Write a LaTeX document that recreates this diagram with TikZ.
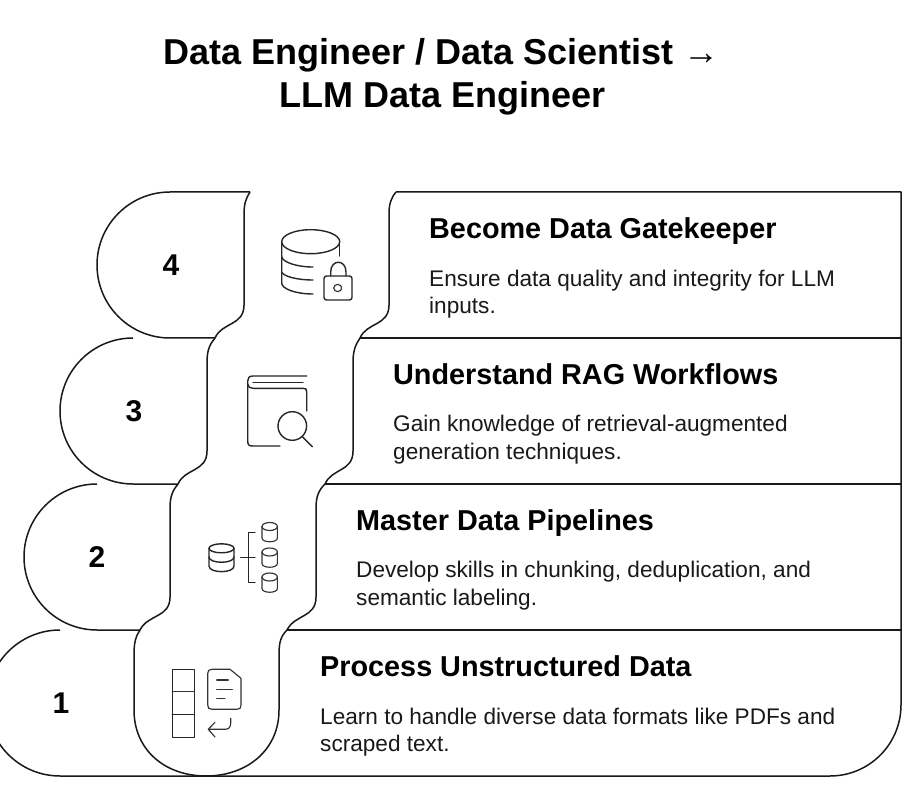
\documentclass[tikz,border=0pt]{standalone}
\usepackage{fontspec}
\setmainfont{Liberation Sans}
\usetikzlibrary{calc}
\tikzset{
  outline/.style={draw=black!90,line width=1.5pt,line join=round},
  icon/.style={draw=black!85,line width=1.4pt,line cap=round,line join=round},
  thinicon/.style={draw=black!80,line width=1.15pt,line cap=round,line join=round},
  titletext/.style={anchor=base,inner sep=0pt,font=\bfseries\fontsize{36}{36}\selectfont},
  headtext/.style={anchor=base west,inner sep=0pt,font=\bfseries\fontsize{28.8}{28.8}\selectfont},
  desctext/.style={anchor=base west,inner sep=0pt,font=\fontsize{22.6}{22.6}\selectfont,text=black!90},
  numtext/.style={anchor=center,inner sep=0pt,font=\bfseries\fontsize{30}{30}\selectfont}
}
\begin{document}
\begin{tikzpicture}[x=1pt,y=-1pt]
\useasboundingbox (0,0) rectangle (916,794);
\fill[white] (0,0) rectangle (916,794);
\clip (0,0) rectangle (916,794);
% lobes and row lines
\draw[outline] (250,192) -- (170,192) arc[start angle=-90,end angle=-270,radius=73] -- (215,338);
\draw[outline] (133,338) arc[start angle=-90,end angle=-270,radius=73] -- (178,484);
\draw[outline] (97,484) arc[start angle=-90,end angle=-270,radius=73] -- (140,630);
\draw[outline] (60,630) arc[start angle=-90,end angle=-270,radius=73] -- (830,776)
  arc[start angle=90,end angle=0,radius=71] -- (901,192) -- (396,192);
\draw[outline] (360,338) -- (901,338);
\draw[outline] (325,484) -- (901,484);
\draw[outline] (287,630) -- (901,630);
% ribbon
\draw[outline] (250,192) .. controls (246,198) and (244,204) .. (244,214) -- (244,305)
  .. controls (244,326) and (222,322) .. (215,338) .. controls (210,344) and (207,350) .. (207,362) -- (207,451)
  .. controls (207,472) and (185,468) .. (178,484) .. controls (173,490) and (170,496) .. (170,508) -- (170,597)
  .. controls (170,618) and (148,614) .. (140,630) .. controls (136,636) and (134,642) .. (134,654) -- (134,710)
  .. controls (134,750) and (165,776) .. (206,776)
  .. controls (247,776) and (279,750) .. (279,710) -- (279,654)
  .. controls (279,642) and (281,636) .. (287,630) .. controls (295,614) and (316,618) .. (316,597) -- (316,508)
  .. controls (316,496) and (319,490) .. (325,484) .. controls (332,468) and (353,472) .. (353,451) -- (353,362)
  .. controls (353,350) and (356,344) .. (360,338) .. controls (367,322) and (389,326) .. (389,305) -- (389,214)
  .. controls (389,204) and (391,198) .. (396,192);
% icon 4: database with lock
\draw[icon] (310.7,241.7) ellipse[x radius=29,y radius=12];
\draw[icon] (339.7,241.7) -- (339.7,256);
\draw[icon] (281.7,241.7) -- (281.7,283) .. controls (281.7,289) and (296,294) .. (313,294);
\draw[icon] (281.7,257) .. controls (283,262) and (296,267) .. (313,267);
\draw[icon] (281.7,272) .. controls (283,276) and (296,280) .. (313,280);
\draw[icon,rounded corners=2.5pt] (324,276) rectangle (352,300);
\draw[icon] (330.7,276) -- (330.7,272) .. controls (330.7,259) and (346,259) .. (346,272) -- (346,276);
\draw[thinicon] (337.7,288) ellipse[x radius=4,y radius=3.6];
% icon 3: book with magnifier
\draw[icon] (306.7,376) -- (253,376) .. controls (249,376) and (247.7,378) .. (247.7,381) -- (247.7,441)
  .. controls (247.7,445) and (249,446) .. (253,446) -- (280,446);
\draw[icon] (253,382.3) -- (303,382.3);
\draw[icon] (247.7,384) .. controls (248,387) and (250,388.3) .. (253,388.3) -- (303,388.3) .. controls (306,388.3) and (306.7,389) .. (306.7,392) -- (306.7,411);
\draw[icon] (292.3,426) circle[radius=14.3];
\draw[icon] (302.3,436.7) -- (312.3,446.7);
% icon 2: pipeline
\draw[icon] (221.5,548.3) ellipse[x radius=12.5,y radius=4.5];
\draw[icon] (209,548.3) -- (209,566) .. controls (209,573.5) and (234,573.5) .. (234,566) -- (234,548.3);
\draw[icon] (209,557) .. controls (209,564) and (234,564) .. (234,557);
\draw[icon] (240.7,557.3) -- (255,557.3);
\draw[icon] (255,532.3) -- (248.3,532.3) -- (248.3,582.3) -- (255,582.3);
\foreach \ytop in {522.5,548,573}{
  \draw[thinicon] (269.7,\ytop+4) ellipse[x radius=7.7,y radius=4];
  \draw[thinicon] (262,\ytop+4) -- (262,\ytop+15.5) .. controls (262,\ytop+20.5) and (277.4,\ytop+20.5) .. (277.4,\ytop+15.5) -- (277.4,\ytop+4);
}
% icon 1: table, document, return arrow
\draw[icon] (172.3,669.3) rectangle (194.3,737.7);
\draw[thinicon] (172.3,691.7) -- (194.3,691.7);
\draw[icon] (172.3,714.3) -- (194.3,714.3);
\draw[thinicon] (212,669.3) -- (230,669.3) -- (241,678.3) -- (241,705) .. controls (241,708) and (240,709.3) .. (237,709.3) -- (212,709.3)
  .. controls (209,709.3) and (207.7,708) .. (207.7,705) -- (207.7,673.5) .. controls (207.7,670.5) and (209,669.3) .. (212,669.3) -- cycle;
\draw[thinicon] (216.7,680) -- (228.3,680);
\draw[thinicon] (216.7,689.3) -- (232.3,689.3);
\draw[thinicon] (216.7,698.3) -- (225,698.3);
\draw[thinicon] (230.7,718.3) -- (230.7,723) .. controls (230.7,727) and (229,729.3) .. (225,729.3) -- (208.3,729.3);
\draw[thinicon] (215,722.3) -- (208.3,729.3) -- (215,737);
% texts
\node[titletext] (title1) at (441.5,65) {Data Engineer / Data Scientist →};
\node[titletext] (title2) at (443,108) {LLM Data Engineer};
\node[numtext] (n4) at (171,265) {4};
\node[numtext] (n3) at (134,411) {3};
\node[numtext] (n2) at (97,557) {2};
\node[numtext] (n1) at (61,703) {1};
\node[headtext] (h4) at (429,239) {Become Data Gatekeeper};
\node[desctext] (d4a) at (429,286.5) {Ensure data quality and integrity for LLM};
\node[desctext] (d4b) at (429,313.5) {inputs.};
\node[headtext] (h3) at (393,384.5) {Understand RAG Workflows};
\node[desctext] (d3a) at (393,431) {Gain knowledge of retrieval-augmented};
\node[desctext] (d3b) at (393,459) {generation techniques.};
\node[headtext] (h2) at (356,530) {Master Data Pipelines};
\node[desctext] (d2a) at (356,577) {Develop skills in chunking, deduplication, and};
\node[desctext] (d2b) at (356,605) {semantic labeling.};
\node[headtext] (h1) at (320,676) {Process Unstructured Data};
\node[desctext] (d1a) at (320,724) {Learn to handle diverse data formats like PDFs and};
\node[desctext] (d1b) at (320,751) {scraped text.};
\end{tikzpicture}
\end{document}
